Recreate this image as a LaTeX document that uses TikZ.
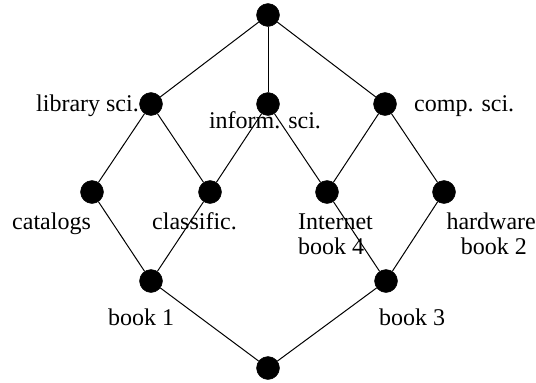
\documentclass[tikz,border=0pt]{standalone}
\usepackage{fontspec}
\setmainfont{Liberation Serif}
\begin{document}
\begin{tikzpicture}[x=1pt,y=-1pt,
  dot/.style={circle,fill=black,draw=black,inner sep=0pt,minimum size=23pt},
  lbl/.style={inner sep=0pt,font=\fontsize{24}{28}\selectfont},
  edge/.style={draw=black,line width=1pt}]
\useasboundingbox (0,0) rectangle (536,383);
% lattice elements
\node[dot] (top)  at (268,15)  {};
\node[dot] (lib)  at (151,104) {};
\node[dot] (inf)  at (268,104) {};
\node[dot] (comp) at (385,104) {};
\node[dot] (cat)  at (92,192)  {};
\node[dot] (cls)  at (210,192) {};
\node[dot] (net)  at (327,192) {};
\node[dot] (hw)   at (444,192) {};
\node[dot] (b1)   at (151,281) {};
\node[dot] (b3)   at (386,281) {};
\node[dot] (bot)  at (268,368) {};
% covering relations
\draw[edge] (top) -- (lib);
\draw[edge] (top) -- (inf);
\draw[edge] (top) -- (comp);
\draw[edge] (lib) -- (cat);
\draw[edge] (lib) -- (cls);
\draw[edge] (inf) -- (cls);
\draw[edge] (inf) -- (net);
\draw[edge] (comp) -- (net);
\draw[edge] (comp) -- (hw);
\draw[edge] (cat) -- (b1);
\draw[edge] (cls) -- (b1);
\draw[edge] (net) -- (b3);
\draw[edge] (hw) -- (b3);
\draw[edge] (b1) -- (bot);
\draw[edge] (b3) -- (bot);
% labels
\node[lbl,anchor=base east] (tlib) at (139,111) {library sci.};
\node[lbl,anchor=base] (tinf) at (265,128) {inform. sci.};
\node[lbl,anchor=base west] (tcomp) at (414,111) {comp. sci.};
\node[lbl,anchor=base west] (tcat) at (12,229) {catalogs};
\node[lbl,anchor=base west] (tcls) at (152,229) {classific.};
\node[lbl,anchor=base west] (tnet) at (298,229) {Internet};
\node[lbl,anchor=base west] (tb4) at (298,254) {book 4};
\node[lbl,anchor=base east] (thw) at (536,229) {hardware};
\node[lbl,anchor=base east] (tb2) at (527,254) {book 2};
\node[lbl,anchor=base west] (tb1) at (108,325) {book 1};
\node[lbl,anchor=base west] (tb3) at (379,325) {book 3};
\end{tikzpicture}
\end{document}
